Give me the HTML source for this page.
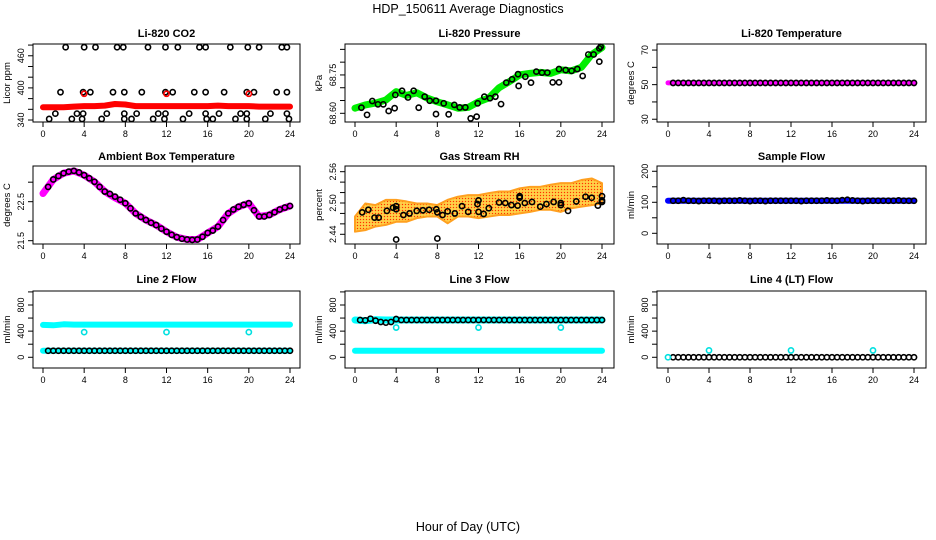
<!DOCTYPE html>
<html><head><meta charset="utf-8"><style>
body{margin:0;background:#fff;}
svg{display:block;font-family:"Liberation Sans",sans-serif;}
</style></head><body>
<svg id="c" width="936" height="540" viewBox="0 0 936 540">
<text x="468" y="13" text-anchor="middle" font-size="12.5">HDP_150611  Average Diagnostics</text>
<text x="468" y="531" text-anchor="middle" font-size="12.5">Hour of Day (UTC)</text>
</svg>
<script>
const hoursFull = [0,1,2,3,4,5,6,7,8,9,10,11,12,13,14,15,16,17,18,19,20,21,22,23,24];
const hoursHalf = [0.5,1,1.5,2,2.5,3,3.5,4,4.5,5,5.5,6,6.5,7,7.5,8,8.5,9,9.5,10,10.5,11,11.5,12,12.5,13,13.5,14,14.5,15,15.5,16,16.5,17,17.5,18,18.5,19,19.5,20,20.5,21,21.5,22,22.5,23,23.5,24];
const xTicks = [0,4,8,12,16,20,24];

// CO2
const co2Band = [364,364,364,365,366,366,367,370,369,366,366,366,366,366,366,366,366,367,366,366,366,365,365,365,365];
const co2TopH = [2.2,4.0,5.1,7.2,7.8,10.2,11.9,13.1,15.2,15.8,18.2,19.9,21.0,23.2,23.7];
const co2MidH = [1.7,3.9,4.6,6.8,7.9,9.6,11.9,12.6,14.7,15.8,17.6,19.8,20.5,22.7,23.7];
const co2LowH = [1.2,3.3,3.9,6.2,7.9,9.1,11.2,11.9,14.2,15.8,17.1,19.2,19.8,22.1,23.7];
const co2BotH = [0.6,2.8,3.8,5.7,7.9,8.6,10.7,11.8,13.6,15.9,16.5,18.7,19.8,21.6,23.9];
const co2Levels = [476,392,352,342];
const co2RedH = [4,12,20];
const co2RedV = [389,389,389];

// Pressure
const presBand = [68.62,68.633,68.64,68.652,68.685,68.67,68.68,68.66,68.645,68.633,68.62,68.623,68.645,68.66,68.70,68.724,68.75,68.756,68.76,68.756,68.77,68.766,68.78,68.83,68.857];
const presH = [0.62,1.17,1.68,2.23,2.75,3.27,3.85,3.92,4.57,5.15,5.70,6.19,6.77,7.26,7.87,7.87,8.62,9.10,9.65,10.17,10.72,11.24,11.82,11.92,12.57,13.12,13.64,14.19,14.70,15.26,15.84,15.90,16.55,17.10,17.62,18.17,18.69,19.21,19.82,19.82,20.47,21.05,21.60,22.12,22.67,23.19,23.74,23.74,23.87];
const presV = [68.622,68.594,68.648,68.635,68.635,68.609,68.620,68.672,68.688,68.662,68.688,68.622,68.665,68.649,68.649,68.597,68.639,68.596,68.633,68.623,68.623,68.580,68.587,68.639,68.665,68.659,68.665,68.636,68.720,68.733,68.753,68.707,68.743,68.720,68.763,68.759,68.759,68.721,68.721,68.773,68.769,68.766,68.773,68.746,68.830,68.830,68.802,68.854,68.860];

// Li-820 temperature
const tempBand = [51,51,51,51,51,51,51,51,51,51,51,51,51,51,51,51,51,51,51,51,51,51,51,51,51];
const tempBlack = [51,51,51,51,51,51,51,51,51,51,51,51,51,51,51,51,51,51,51,51,51,51,51,51,51,51,51,51,51,51,51,51,51,51,51,51,51,51,51,51,51,51,51,51,51,51,51,51];

// Ambient
const ambient = [22.71,23.07,23.23,23.29,23.18,23.01,22.76,22.60,22.46,22.20,22.03,21.90,21.73,21.59,21.53,21.53,21.70,21.86,22.20,22.37,22.46,22.12,22.16,22.30,22.39];
const ambientHalf = [22.88,23.07,23.16,23.23,23.27,23.29,23.25,23.18,23.10,23.01,22.88,22.76,22.70,22.63,22.55,22.46,22.33,22.20,22.11,22.03,21.96,21.90,21.81,21.73,21.65,21.59,21.55,21.53,21.52,21.53,21.60,21.70,21.76,21.86,22.03,22.20,22.30,22.37,22.42,22.46,22.28,22.12,22.12,22.16,22.23,22.30,22.35,22.39];

// Gas RH
const rhUpper = [2.474,2.499,2.496,2.506,2.506,2.503,2.499,2.499,2.496,2.506,2.512,2.515,2.515,2.519,2.522,2.522,2.528,2.531,2.531,2.535,2.538,2.538,2.544,2.547,2.538];
const rhLower = [2.445,2.448,2.455,2.458,2.464,2.464,2.471,2.474,2.474,2.461,2.474,2.474,2.471,2.474,2.477,2.477,2.480,2.483,2.487,2.487,2.483,2.490,2.493,2.496,2.499];
const rhH = [0.7,1.3,1.9,2.3,3.1,3.7,4,4,4,4.7,5.3,6,6.6,7.2,7.9,8,8,8.5,9,9.7,10.4,11,11.9,12,12,12.5,13,14,14.6,15.2,15.8,16,16,16.5,17.2,18,18.6,19.3,20,20,20.7,21.5,22.4,23,23.6,24,24,24];
const rhV = [2.482,2.487,2.472,2.472,2.485,2.491,2.494,2.488,2.43,2.477,2.48,2.485,2.486,2.487,2.488,2.482,2.432,2.477,2.484,2.48,2.494,2.483,2.498,2.505,2.483,2.479,2.49,2.501,2.5,2.496,2.495,2.51,2.513,2.5,2.502,2.493,2.498,2.502,2.5,2.496,2.485,2.503,2.512,2.51,2.495,2.513,2.502,2.505];

// Sample flow
const sampleBand = [105,105,105,105,105,105,105,105,105,105,105,105,105,105,105,105,105,105,105,105,105,105,105,105,105];
const sampleBlack = [105,105,107,105,105,104,105,105,105,104,105,105,105,106,105,104,105,105,104,105,105,105,105,105,105,104,105,105,105,105,106,105,105,107,108,106,105,104,105,105,105,105,105,105,106,105,105,105];

// Line 2
const line2Upper = [495,490,505,500,500,500,500,500,500,500,500,500,500,500,500,500,500,500,500,500,500,500,500,500,500];
const line2Lower = [100,100,100,100,100,100,100,100,100,100,100,100,100,100,100,100,100,100,100,100,100,100,100,100,100];
const line2Black = [100,100,100,100,100,100,100,100,100,100,100,100,100,100,100,100,100,100,100,100,100,100,100,100,100,100,100,100,100,100,100,100,100,100,100,100,100,100,100,100,100,100,100,100,100,100,100,100];
const line2OutH = [4,12,20];
const line2OutV = [385,385,385];

// Line 3
const line3Upper = [570,560,575,570,570,570,570,570,570,570,570,570,570,570,570,570,570,570,570,570,570,570,570,570,570];
const line3Lower = [100,100,100,100,100,100,100,100,100,100,100,100,100,100,100,100,100,100,100,100,100,100,100,100,100];
const line3Black = [570,565,590,560,540,530,540,585,570,570,570,570,570,570,570,570,570,570,570,570,570,570,570,570,570,570,570,570,570,570,570,570,570,570,570,570,570,570,570,570,570,570,570,570,570,570,570,570];
const line3OutH = [4,12,20];
const line3OutV = [455,455,455];

// Line 4
const line4Black = [0,0,0,0,0,0,0,0,0,0,0,0,0,0,0,0,0,0,0,0,0,0,0,0,0,0,0,0,0,0,0,0,0,0,0,0,0,0,0,0,0,0,0,0,0,0,0,0];
const line4OutH = [0,4,12,20];
const line4OutV = [0,105,105,105];

const NS = 'http://www.w3.org/2000/svg';
const svg = document.getElementById('c');
function mk(tag, attrs, parent) {
  const e = document.createElementNS(NS, tag);
  for (const k in attrs) e.setAttribute(k, attrs[k]);
  (parent || svg).appendChild(e);
  return e;
}
const cols = [{l:33,r:300,x0:43,x24:290},{l:345,r:614,x0:355,x24:602},{l:657,r:926,x0:668,x24:914}];
const rows = [{t:44,b:122,ty:37},{t:166,b:244,ty:160},{t:291,b:368,ty:283}];

function panel(name, title, ci, ri, ymin, ymax, yTicks, yLabels, ytitle) {
  const c = cols[ci], r = rows[ri];
  const g = mk('g', {});
  
  
  const sx = h => c.x0 + h / 24 * (c.x24 - c.x0);
  const sy = v => r.b - (v - ymin) / (ymax - ymin) * (r.b - r.t);
  const t = mk('text', {x:(c.l + c.r) / 2, y:r.ty, 'text-anchor':'middle', 'font-size':'11', 'font-weight':'bold'}, g);
  t.textContent = title;
  
  
  const box = mk('rect', {x:c.l, y:r.t, width:c.r - c.l, height:r.b - r.t, fill:'none', stroke:'#000', 'stroke-width':1}, g);
  
  
  const xa = mk('g', {}, g);
  
  
  xTicks.forEach(h => {
    mk('line', {x1:sx(h), x2:sx(h), y1:r.b, y2:r.b + 5, stroke:'#000'}, xa);
    const tl = mk('text', {x:sx(h), y:r.b + 15, 'text-anchor':'middle', 'font-size':'9'}, xa);
    tl.textContent = h;
    
    
  });
  const ya = mk('g', {}, g);
  
  
  yTicks.forEach(v => mk('line', {x1:c.l - 5, x2:c.l, y1:sy(v), y2:sy(v), stroke:'#000'}, ya));
  yLabels.forEach(v => {
    const x = c.l - 9, y = sy(v);
    const tl = mk('text', {x:x, y:y, 'text-anchor':'middle', 'font-size':'9', transform:`rotate(-90 ${x} ${y})`}, ya);
    tl.textContent = v;
    
    
  });
  const yx = c.l - 23, yy = (r.t + r.b) / 2;
  const yt = mk('text', {x:yx, y:yy, 'text-anchor':'middle', 'font-size':'9.5', transform:`rotate(-90 ${yx} ${yy})`}, ya);
  yt.textContent = ytitle;
  
  
  return {g, sx, sy};
}
function band(p, hs, vs, color, w, name) {
  const pts = hs.map((h, i) => p.sx(h).toFixed(1) + ',' + p.sy(vs[i]).toFixed(1)).join(' ');
  const e = mk('polyline', {points:pts, fill:'none', stroke:color, 'stroke-width':w, 'stroke-linecap':'round', 'stroke-linejoin':'round'}, p.g);
  
  
}
function dots(p, hs, vs, color, name) {
  const g = mk('g', {}, p.g);
  
  
  hs.forEach((h, i) => mk('circle', {cx:p.sx(h), cy:p.sy(vs[i]), r:2.6, fill:'none', stroke:color, 'stroke-width':1.6}, g));
}

// CO2
let p = panel('co2-panel', 'Li-820 CO2', 0, 0, 336.3, 482, [340,360,380,400,420,440,460,480], [340,400,460], 'Licor ppm');
band(p, hoursFull, co2Band, '#ff0000', 6, 'co2-band');
[co2TopH, co2MidH, co2LowH, co2BotH].forEach((hs, k) => dots(p, hs, hs.map(() => co2Levels[k]), '#000', 'co2-points'));
dots(p, co2RedH, co2RedV, '#ff0000', 'co2-red-points');

// Pressure
p = panel('pressure-panel', 'Li-820 Pressure', 1, 0, 68.566, 68.871, [68.60,68.65,68.70,68.75,68.80,68.85], ['68.60','68.75'], 'kPa');
band(p, hoursFull, presBand, '#00ee00', 7, 'pressure-band');
dots(p, presH, presV, '#000', 'pressure-points');

// Temperature
p = panel('temperature-panel', 'Li-820 Temperature', 2, 0, 28.4, 73.5, [30,40,50,60,70], [30,50,70], 'degrees C');
band(p, hoursFull, tempBand, '#ff00ff', 5, 'temperature-band');
dots(p, hoursHalf, tempBlack, '#000', 'temperature-points');

// Ambient
p = panel('ambient-panel', 'Ambient Box Temperature', 0, 1, 21.415, 23.415, [21.5,22,22.5,23], ['21.5','22.5'], 'degrees C');
band(p, hoursFull, ambient, '#ff00ff', 7, 'ambient-band');
dots(p, hoursHalf, ambientHalf, '#000', 'ambient-points');

// RH
p = panel('rh-panel', 'Gas Stream RH', 1, 1, 2.4214, 2.5709, [2.44,2.46,2.48,2.50,2.52,2.54,2.56], ['2.44','2.50','2.56'], 'percent');
const defs = mk('defs', {});
const pat = mk('pattern', {id:'rhpat', width:3, height:3, patternUnits:'userSpaceOnUse'}, defs);
mk('rect', {width:3, height:3, fill:'#ffc040'}, pat);
mk('rect', {x:0, y:0, width:1, height:1, fill:'#ff3000'}, pat);
mk('rect', {x:1.5, y:1.5, width:1, height:1, fill:'#ffff60'}, pat);
const poly = hoursFull.map((h, i) => p.sx(h) + ',' + p.sy(rhUpper[i])).concat(hoursFull.slice().reverse().map((h, i) => p.sx(h) + ',' + p.sy(rhLower[24 - i]))).join(' ');
const rb = mk('polygon', {points:poly, fill:'url(#rhpat)', stroke:'#ffa020', 'stroke-width':2, 'stroke-linejoin':'round'}, p.g);


dots(p, rhH, rhV, '#000', 'rh-points');

// Sample flow
p = panel('sample-flow-panel', 'Sample Flow', 2, 1, -34.5, 217, [0,50,100,150,200], [0,100,200], 'ml/min');
band(p, hoursFull, sampleBand, '#0000ff', 6, 'sample-flow-band');
dots(p, hoursHalf, sampleBlack, '#000', 'sample-flow-points');

// Line 2
const fTicks = [0,200,400,600,800,1000];
p = panel('line2-panel', 'Line 2 Flow', 0, 2, -164, 1014, fTicks, [0,400,800], 'ml/min');
band(p, hoursFull, line2Upper, '#00ffff', 6, 'line2-upper-band');
band(p, hoursFull, line2Lower, '#00ffff', 6, 'line2-lower-band');
dots(p, hoursHalf, line2Black, '#000', 'line2-points');
dots(p, line2OutH, line2OutV, '#00e0e0', 'line2-outliers');

// Line 3
p = panel('line3-panel', 'Line 3 Flow', 1, 2, -164, 1014, fTicks, [0,400,800], 'ml/min');
band(p, hoursFull, line3Upper, '#00ffff', 7, 'line3-upper-band');
band(p, hoursFull, line3Lower, '#00ffff', 6, 'line3-lower-band');
dots(p, hoursHalf, line3Black, '#000', 'line3-points');
dots(p, line3OutH, line3OutV, '#00e0e0', 'line3-outliers');

// Line 4
p = panel('line4-panel', 'Line 4 (LT) Flow', 2, 2, -164, 1014, fTicks, [0,400,800], 'ml/min');
dots(p, hoursHalf, line4Black, '#000', 'line4-points');
dots(p, line4OutH, line4OutV, '#00e0e0', 'line4-outliers');
</script>
</body></html>
